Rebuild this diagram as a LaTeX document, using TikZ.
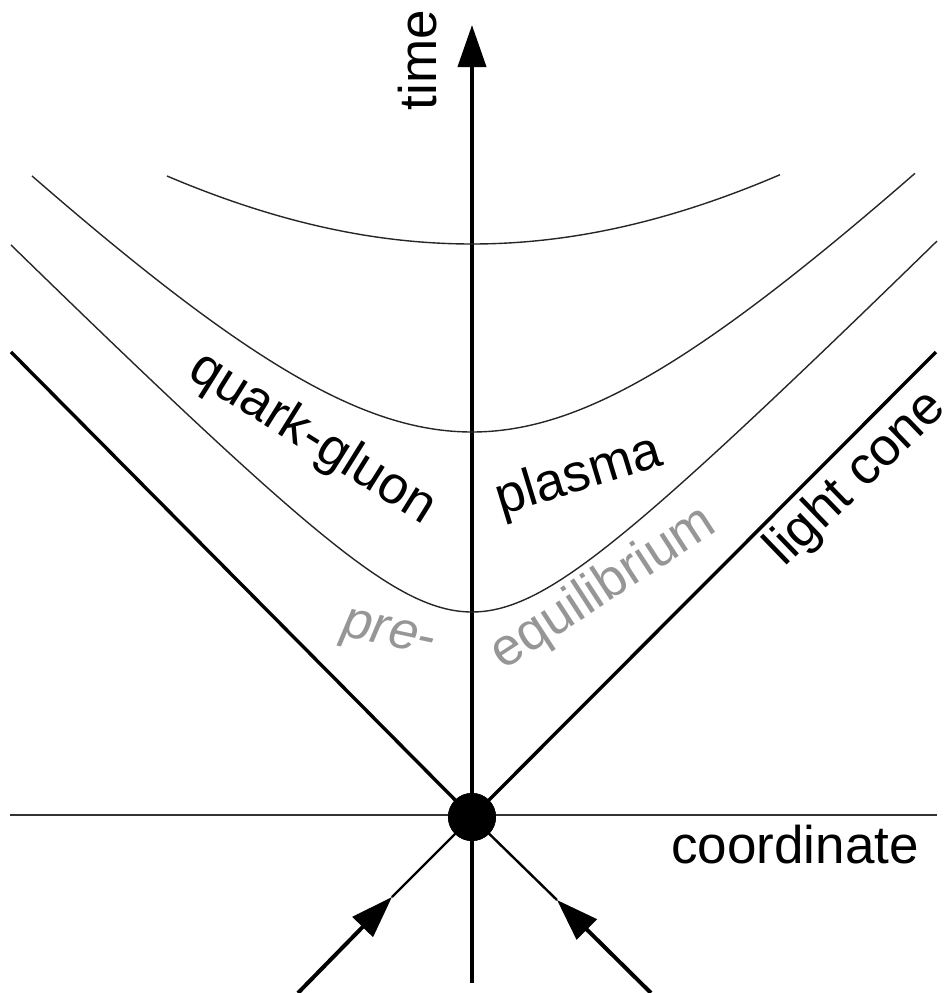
\documentclass[tikz,border=0pt]{standalone}
\usepackage{fontspec}
\setmainfont{Liberation Sans}
\usetikzlibrary{arrows.meta}
\definecolor{pregray}{RGB}{150,150,150}

\begin{document}
\begin{tikzpicture}[x=5pt, y=5pt,
  font=\fontsize{26.5}{30}\selectfont,
  axis/.style={line width=2pt},
  cone/.style={line width=1.7pt},
  conelow/.style={line width=1.2pt},
  curve/.style={line width=0.7pt, black!85},
  tip/.style={-{Triangle[length=21pt, width=14pt]}},
  lbl/.style={inner sep=0pt},
  grey/.style={lbl, text=pregray}]
\useasboundingbox (-47.2,-17.6) rectangle (47.4,81.7);

\coordinate (tbot) at (0,-16.6);
\coordinate (ttop) at (0,79.2);
\coordinate (xl) at (-46.2,0.2);
\coordinate (xr) at (46.5,0.2);
\coordinate (lcL) at (-46.1,46.5);
\coordinate (lcR) at (46.4,46.5);
\coordinate (inL) at (-17.4,-17.6);
\coordinate (tipL) at (-8.0,-8.0);
\coordinate (inR) at (17.9,-17.6);
\coordinate (tipR) at (8.5,-8.3);

\draw[line width=1pt, black!80] (xl) -- (xr);
\draw[axis, tip] (tbot) -- (ttop);

\draw[curve] plot[domain=-46.1:46.5, samples=90, smooth] (\x, {9.9+sqrt(\x*\x+112.36)});
\draw[curve] plot[domain=-44.0:44.3, samples=90, smooth] (\x, {13.5+sqrt(\x*\x+625)});
\draw[curve] plot[domain=-30.5:30.8, samples=60, smooth] (\x, {-7.7+sqrt(\x*\x+4225)});

\node[circle, fill, inner sep=0pt, minimum size=24pt] (O) at (0,0) {};
\draw[cone] (O.center) -- (lcL);
\draw[cone] (O.center) -- (lcR);
\draw[conelow] (tipL) -- (O.center);
\draw[conelow] (tipR) -- (O.center);
\draw[axis, tip] (inL) -- (tipL);
\draw[axis, tip] (inR) -- (tipR);
\node[circle, fill, inner sep=0pt, minimum size=24pt] at (O) {};

\node[lbl, rotate=90] (time) at (-5.4,75.7) {time};
\node[lbl, anchor=base] (coord) at (32.3,-4.6) {coordinate};
\node[lbl, rotate=-32] (qg) at (-16.0,37.8) {quark-gluon};
\node[lbl, rotate=17] (plasma) at (10.7,34.0) {plasma};
\node[lbl, rotate=44] (light) at (38.5,33.8) {light cone};
\node[grey, rotate=-12, font=\fontsize{26.5}{30}\selectfont\itshape] (pre) at (-8.4,18.0) {pre-};
\node[grey, rotate=33] (equil) at (13.2,22.8) {equilibrium};
\end{tikzpicture}
\end{document}
